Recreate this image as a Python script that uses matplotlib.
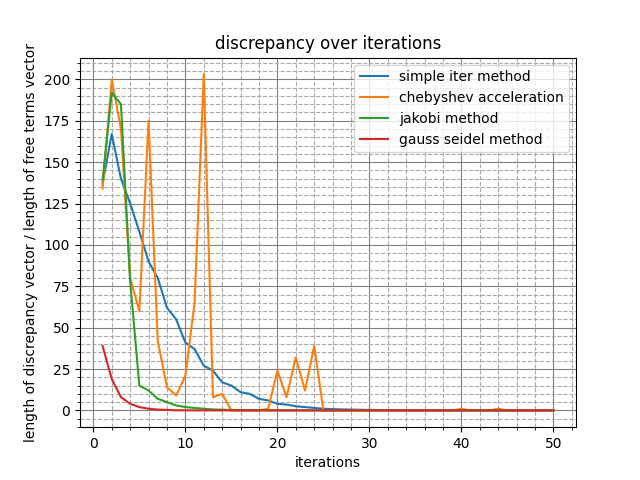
import numpy as np
import matplotlib.pyplot as plt
from matplotlib.ticker import AutoMinorLocator

iters = list(range(1, 51))
simple_iter = [137, 167, 140, 125, 108, 90, 80, 62, 55, 41, 37, 27, 24, 17, 15, 11, 10, 7, 6, 4,
               3.5, 2.5, 2, 1.5, 1, 0.8, 0.6, 0.5, 0.4, 0.3, 0.25, 0.2, 0.15, 0.1, 0.1, 0.08, 0.06, 0.05, 0.04, 0.03,
               0.03, 0.02, 0.02, 0.01, 0.01, 0.01, 0.01, 0, 0, 0]
chebyshev = [134, 200, 170, 80, 60, 175, 42, 14, 9, 21, 65, 203, 8, 10, 0, 0, 0, 0, 1, 24,
             8, 32, 12, 39, 0, 0, 0, 0, 0, 0, 0, 0, 0, 0, 0, 0, 0, 0, 0, 1,
             0, 0, 0, 1, 0, 0, 0, 0, 0, 0]
jakobi = [139, 192, 185, 78, 15, 12, 7, 5, 3, 2, 1.5, 1, 0.6, 0.4, 0.3, 0.2, 0.1, 0.1, 0.05, 0.03,
          0.02, 0.01, 0, 0, 0, 0, 0, 0, 0, 0, 0, 0, 0, 0, 0, 0, 0, 0, 0, 0,
          0, 0, 0, 0, 0, 0, 0, 0, 0, 0]
gauss_seidel = [39, 19, 8, 4, 2, 1, 0.5, 0.3, 0.1, 0.05, 0.02, 0.01, 0, 0, 0, 0, 0, 0, 0, 0,
                0, 0, 0, 0, 0, 0, 0, 0, 0, 0, 0, 0, 0, 0, 0, 0, 0, 0, 0, 0,
                0, 0, 0, 0, 0, 0, 0, 0, 0, 0]

fig, ax = plt.subplots(figsize=(6.4, 4.8), dpi=100)
ax.plot(iters, simple_iter, label='simple iter method')
ax.plot(iters, chebyshev, label='chebyshev acceleration')
ax.plot(iters, jakobi, label='jakobi method')
ax.plot(iters, gauss_seidel, label='gauss seidel method')
ax.xaxis.set_minor_locator(AutoMinorLocator(5))
ax.yaxis.set_minor_locator(AutoMinorLocator(5))
ax.grid(which='major', color='gray', linestyle='-', linewidth=0.8)
ax.grid(which='minor', color='darkgray', linestyle='--', linewidth=0.8)
ax.set_title('discrepancy over iterations')
ax.set_xlabel('iterations')
ax.set_ylabel('length of discrepancy vector / length of free terms vector')
ax.legend(loc='upper right')
plt.savefig('out.png')
